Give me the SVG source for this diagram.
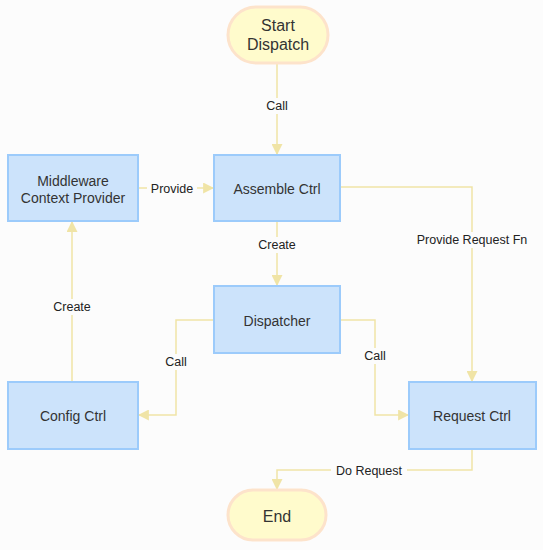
<svg xmlns="http://www.w3.org/2000/svg" width="543" height="550" viewBox="0 0 543 550">
<style>
.bg{fill:#fcfcfc}
.box{fill:#cce3fb;stroke:#9ccbfb;stroke-width:2}
.term{fill:#fffbcc;stroke:#fde3cb;stroke-width:3}
.t{font-family:"Liberation Sans",Arial,sans-serif;font-size:14px;fill:#333;text-anchor:middle;dominant-baseline:central}
.tt{font-family:"Liberation Sans",Arial,sans-serif;font-size:16px;fill:#333;text-anchor:middle;dominant-baseline:central}
.e{fill:none;stroke:#f0e4a6;stroke-width:1.5}
.l{font-family:"Liberation Sans",Arial,sans-serif;font-size:12.5px;fill:#222;text-anchor:middle;dominant-baseline:central}
.lb{fill:#fcfcfc}
</style>
<defs>
<marker id="ah" viewBox="0 0 10 10" refX="9" refY="5" markerWidth="11" markerHeight="11" markerUnits="userSpaceOnUse" orient="auto">
<path d="M0,0 L10,5 L0,10 z" fill="#f0e4a6"/>
</marker>
</defs>
<rect class="bg" x="0" y="0" width="543" height="550"/>
<g id="connectors">
<path class="e" d="M277,63 V154" marker-end="url(#ah)"/>
<rect class="lb" x="262" y="98" width="30" height="16"/>
<text class="l" x="277" y="106">Call</text>
<path class="e" d="M138,188 H213" marker-end="url(#ah)"/>
<rect class="lb" x="147" y="180" width="50" height="16"/>
<text class="l" x="172" y="189">Provide</text>
<path class="e" d="M277,221 V285" marker-end="url(#ah)"/>
<rect class="lb" x="254" y="237" width="46" height="16"/>
<text class="l" x="277" y="245">Create</text>
<path class="e" d="M340,187 H472 V381" marker-end="url(#ah)"/>
<rect class="lb" x="410" y="232" width="124" height="16"/>
<text class="l" x="472" y="240">Provide Request Fn</text>
<path class="e" d="M214,320 H176 V415 H139" marker-end="url(#ah)"/>
<rect class="lb" x="161" y="354" width="30" height="16"/>
<text class="l" x="176" y="362">Call</text>
<path class="e" d="M340,320 H375 V415 H408" marker-end="url(#ah)"/>
<rect class="lb" x="360" y="348" width="30" height="16"/>
<text class="l" x="375" y="356">Call</text>
<path class="e" d="M72,382 V222" marker-end="url(#ah)"/>
<rect class="lb" x="49" y="299" width="46" height="16"/>
<text class="l" x="72" y="307">Create</text>
<path class="e" d="M472,449 V470 H277 V489" marker-end="url(#ah)"/>
<rect class="lb" x="331" y="462" width="76" height="16"/>
<text class="l" x="369" y="471">Do Request</text>
</g>
<g id="start">
<rect class="term" x="228" y="7" width="100" height="56" rx="28"/>
<text class="tt" x="278" y="25">Start</text>
<text class="tt" x="278" y="44">Dispatch</text>
</g>
<g id="assemble">
<rect class="box" x="214" y="155" width="126" height="66"/>
<text class="t" x="277" y="189">Assemble Ctrl</text>
</g>
<g id="middleware">
<rect class="box" x="8" y="155" width="130" height="66"/>
<text class="t" x="73" y="181">Middleware</text>
<text class="t" x="73" y="198">Context Provider</text>
</g>
<g id="dispatcher">
<rect class="box" x="214" y="286" width="126" height="67"/>
<text class="t" x="277" y="321">Dispatcher</text>
</g>
<g id="config">
<rect class="box" x="8" y="382" width="130" height="67"/>
<text class="t" x="73" y="416">Config Ctrl</text>
</g>
<g id="request">
<rect class="box" x="409" y="382" width="127" height="67"/>
<text class="t" x="472" y="416">Request Ctrl</text>
</g>
<g id="end">
<rect class="term" x="228" y="490" width="98" height="50" rx="25"/>
<text class="tt" x="277" y="516">End</text>
</g>
</svg>
